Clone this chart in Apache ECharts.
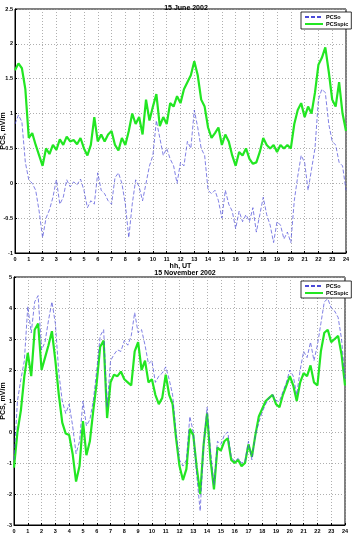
<!DOCTYPE html>
<html>
<head>
<meta charset="utf-8">
<script src="https://cdn.jsdelivr.net/npm/echarts@6/dist/echarts.min.js"></script>
<style>
  html, body { margin: 0; padding: 0; background: #fff; }
  #chart { width: 352px; height: 534px; }
</style>
</head>
<body>
<div id="chart"></div>
<script>
// sample times, every 15 min
const hours = Array.from({ length: 97 }, (_, i) => i * 0.25);

// 15 June 2002
const juneObs = [
  0.85, 0.98, 0.88, 0.3, 0.05, 0.0, -0.1, -0.4, -0.78, -0.5, -0.38, -0.2,
  0.05, -0.3, -0.2, 0.05, -0.05, 0.02, -0.02, 0.06, -0.1, -0.35, -0.25, -0.3,
  0.15, -0.1, -0.15, -0.25, -0.3, 0.08, 0.15, 0.0, -0.3, -0.78, -0.3, 0.05,
  -0.05, -0.25, 0.0, 0.25, 0.4, 0.9, 0.65, 0.4, 0.5, 0.35, 0.25, 0.0,
  0.3, 0.25, 0.6, 0.5, 1.05, 0.8, 0.5, 0.4, -0.1, -0.15, -0.1, -0.25,
  -0.5, -0.1, -0.3, -0.4, -0.65, -0.4, -0.55, -0.45, -0.55, -0.35, -0.7, -0.45,
  -0.2, -0.45, -0.6, -0.85, -0.55, -0.6, -0.8, -0.7, -0.85, -0.25, 0.1, 0.4,
  0.3, -0.1, 0.2, 0.5, 1.2, 1.35, 1.3, 0.85, 0.6, 0.55, 0.3, 0.25, -0.1
];
const juneSpic = [
  1.62, 1.72, 1.65, 1.35, 0.65, 0.72, 0.55, 0.4, 0.25, 0.5, 0.42, 0.55,
  0.48, 0.63, 0.55, 0.67, 0.6, 0.62, 0.56, 0.65, 0.5, 0.4, 0.55, 0.95,
  0.6, 0.7, 0.6, 0.7, 0.75, 0.55, 0.47, 0.65, 0.55, 0.75, 1.0, 0.85,
  0.95, 0.7, 1.2, 0.9, 1.1, 1.28, 0.82, 0.95, 0.85, 1.15, 1.1, 1.25,
  1.15, 1.35, 1.45, 1.55, 1.75, 1.55, 1.2, 1.1, 0.8, 0.65, 0.72, 0.8,
  0.55, 0.7, 0.6, 0.4, 0.25, 0.45, 0.4, 0.5, 0.35, 0.28, 0.3, 0.45,
  0.65, 0.55, 0.5, 0.55, 0.45, 0.55, 0.5, 0.55, 0.5, 0.85, 1.05, 1.15,
  0.95, 1.1, 1.0, 1.3, 1.7, 1.8, 1.95, 1.6, 1.2, 1.1, 1.45, 1.0, 0.75
];

// 15 November 2002
const novObs = [
  -0.9, 1.0, 1.7, 2.3, 4.05, 3.2, 4.2, 4.4, 2.65, 2.9, 3.6, 4.2,
  3.5, 1.9, 1.0, 0.6, 0.9, 0.2, -0.7, -0.3, 1.0, 0.2, 0.4, 1.0,
  2.0, 3.1, 3.3, 0.8, 2.3, 2.5, 2.65, 2.6, 2.95, 2.8, 3.1, 3.85,
  3.2, 3.3, 2.8, 2.2, 2.3, 1.6, 1.8, 1.9, 2.1, 1.7, 1.2, 0.0,
  -0.9, -1.1, -0.9, 0.5, 0.0, -1.4, -2.55, -0.4, 0.8, -0.6, -1.7, -0.3,
  -0.4, -0.1, 0.0, -0.8, -0.95, -0.85, -1.0, -0.95, -0.3, -0.9, -0.1, 0.3,
  0.65, 0.9, 1.1, 1.2, 1.0, 1.0, 1.3, 1.6, 2.0, 1.8, 1.2, 2.0,
  2.6, 2.4, 2.9, 2.3, 2.8, 3.5, 4.2, 4.3, 4.0, 3.9, 3.7, 3.0, 1.7
];
const novSpic = [
  -1.15, 0.0, 0.7, 1.8, 2.55, 1.8, 3.3, 3.5, 2.0, 2.4, 2.8, 3.25,
  2.3, 1.2, 0.3, -0.05, -0.1, -0.7, -1.6, -1.1, 0.35, -0.75, -0.3, 0.7,
  1.6, 2.75, 2.95, 0.45, 1.6, 1.85, 1.8, 1.95, 1.7, 1.6, 1.5, 2.6,
  2.9, 2.0, 2.3, 1.6, 1.7, 1.2, 0.9, 1.1, 1.85, 1.2, 0.9, -0.2,
  -1.1, -1.55, -1.2, 0.1, -0.1, -1.15, -2.0, -0.4, 0.6, -0.9, -1.85, -0.5,
  -0.6, -0.3, -0.2, -0.9, -1.0, -0.9, -1.1, -1.0, -0.4, -0.8, -0.1, 0.5,
  0.75, 1.0, 1.1, 1.2, 0.9, 0.8, 1.2, 1.5, 1.8, 1.5, 1.0, 1.6,
  1.9, 1.8, 2.15, 1.6, 1.5, 2.6, 3.2, 3.3, 2.9, 3.0, 3.1, 2.5, 1.5
];

const titles = ["15 June 2002", "15 November 2002"];
const xLabel = "hh, UT";
const yLabel = "PCS, mV/m";
const names = ["PCSo", "PCSspic"];

const font = "Liberation Sans, Arial, sans-serif";
const blue = "#4a4ad8";
const green = "#22e622";

function pair(values) {
  return hours.map((h, i) => [h, values[i]]);
}

function xAxisFor(idx) {
  return {
    type: "value", gridIndex: idx, min: 0, max: 24, interval: 1,
    name: xLabel, nameLocation: "middle", nameGap: 9,
    nameTextStyle: { fontSize: 7, fontWeight: "bold", color: "#000", fontFamily: font },
    axisLine: { onZero: false, lineStyle: { color: "#000", width: 1 } },
    axisTick: { inside: true, length: 2, lineStyle: { color: "#000" } },
    axisLabel: { fontSize: 5.5, fontWeight: "bold", color: "#000", margin: 3, fontFamily: font },
    splitLine: { show: true, lineStyle: { color: "#9a9a9a", type: [1, 2], width: 0.8 } }
  };
}

function yAxisFor(idx, min, max, step) {
  return {
    type: "value", gridIndex: idx, min: min, max: max, interval: step,
    axisLine: { show: true, onZero: false, lineStyle: { color: "#000", width: 1 } },
    axisTick: { show: true, inside: true, length: 2, lineStyle: { color: "#000" } },
    axisLabel: { fontSize: 5.5, fontWeight: "bold", color: "#000", margin: 2, fontFamily: font },
    splitLine: { show: true, lineStyle: { color: "#9a9a9a", type: [1, 2], width: 0.8 } }
  };
}

// y axis titles sit in the narrow left margin, so draw them as rotated text
function yTitle(cy) {
  return {
    type: "text", x: 3, y: cy, rotation: Math.PI / 2,
    style: {
      text: yLabel, textAlign: "center", textVerticalAlign: "middle",
      font: "bold 7px " + font, fill: "#000"
    }
  };
}

function lineSeries(name, idx, values, color, width, dash) {
  return {
    name: name, type: "line", xAxisIndex: idx, yAxisIndex: idx,
    data: pair(values), symbol: "none", showSymbol: false, animation: false,
    z: dash ? 3 : 2,
    lineStyle: { color: color, width: width, type: dash ? [4, 2] : "solid" },
    itemStyle: { color: color }
  };
}

function legendFor(top) {
  return {
    orient: "vertical", left: 301, top: top, data: names,
    backgroundColor: "#fff", borderColor: "#000", borderWidth: 0.8,
    padding: [2, 3, 2, 3], itemGap: 1, itemWidth: 18, itemHeight: 6,
    itemStyle: { opacity: 0 },
    textStyle: { fontSize: 5.5, fontWeight: "bold", color: "#000", fontFamily: font, padding: [0, 0, 0, -2] }
  };
}

const chart = echarts.init(document.getElementById("chart"), null, { renderer: "canvas" });
chart.setOption({
  animation: false,
  backgroundColor: "#fff",
  title: [
    { text: titles[0], left: 181, top: 0, textAlign: "center",
      textStyle: { fontSize: 7, fontWeight: "bold", color: "#000", fontFamily: font } },
    { text: titles[1], left: 180, top: 265, textAlign: "center",
      textStyle: { fontSize: 7, fontWeight: "bold", color: "#000", fontFamily: font } }
  ],
  graphic: [yTitle(131), yTitle(401)],
  legend: [legendFor(12), legendFor(281)],
  grid: [
    { left: 15, right: 6, top: 9, height: 244, show: true, borderColor: "#000", borderWidth: 1, outerBoundsMode: "none" },
    { left: 14, right: 7, top: 277, height: 248, show: true, borderColor: "#000", borderWidth: 1, outerBoundsMode: "none" }
  ],
  xAxis: [xAxisFor(0), xAxisFor(1)],
  yAxis: [yAxisFor(0, -1, 2.5, 0.5), yAxisFor(1, -3, 5, 1)],
  series: [
    lineSeries(names[1], 0, juneSpic, green, 2.2, false),
    lineSeries(names[0], 0, juneObs, blue, 0.7, true),
    lineSeries(names[1], 1, novSpic, green, 2.2, false),
    lineSeries(names[0], 1, novObs, blue, 0.7, true)
  ]
});
</script>
</body>
</html>
